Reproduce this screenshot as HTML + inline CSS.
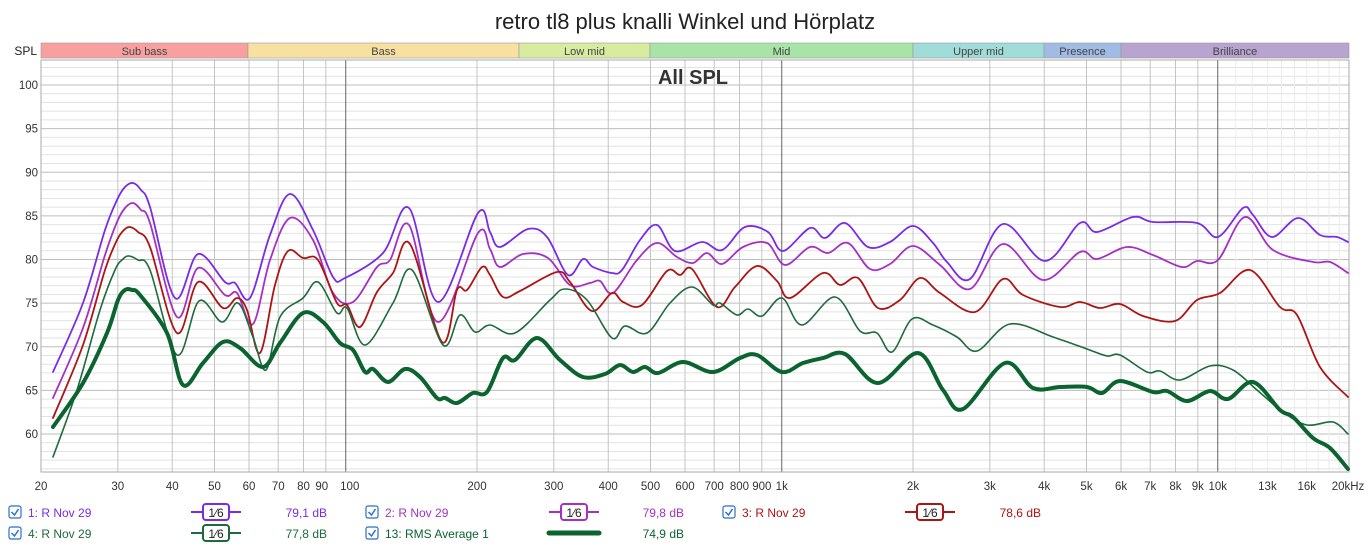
<!DOCTYPE html>
<html><head><meta charset="utf-8"><style>
body{margin:0;background:#fff;width:1369px;height:544px;overflow:hidden;font-family:"Liberation Sans",sans-serif}
</style></head><body>
<svg id="s" width="1369" height="544" xmlns="http://www.w3.org/2000/svg" font-family="Liberation Sans, sans-serif">
<rect width="1369" height="544" fill="#fff"/>
<text x="685" y="29" text-anchor="middle" font-size="22" fill="#222">retro tl8 plus knalli Winkel und Hörplatz</text>
<text x="37" y="55" text-anchor="end" font-size="12" fill="#222">SPL</text>
<g id="bands" font-size="11" fill="#444"></g>
<g id="grid"></g>
<text x="693" y="84" text-anchor="middle" font-size="20" font-weight="bold" fill="#333">All SPL</text>
<g id="curves" fill="none" stroke-linejoin="round" stroke-linecap="round"></g>
<g id="labels" font-size="11.5" fill="#333"></g>
<g id="legend" font-size="12"></g>
</svg>
<script>
const NS="http://www.w3.org/2000/svg";
function el(p,t,a,txt){const e=document.createElementNS(NS,t);for(const k in a)e.setAttribute(k,a[k]);if(txt!=null)e.textContent=txt;document.getElementById(p).appendChild(e);return e;}
const X=f=>41+436*Math.log10(f/20), Y=d=>85+(100-d)*8.725;
const T=60,B=472,L=41,R=1349;
[["Sub bass",41,248,"#f8a0a0"],["Bass",248,519,"#f8e0a0"],["Low mid",519,650,"#d8eca0"],["Mid",650,913,"#a8e4a8"],["Upper mid",913,1044,"#a0dcd8"],["Presence",1044,1121,"#a0bce4"],["Brilliance",1121,1349,"#b8a4d0"]].forEach(b=>{
el("bands","rect",{x:b[1],y:43,width:b[2]-b[1],height:15,fill:b[3],stroke:"#999","stroke-width":0.6});
el("bands","text",{x:(b[1]+b[2])/2,y:55,"text-anchor":"middle"},b[0]);});
for(let d=56;d<=102;d++){const y=Y(d);if(y<T||y>B)continue;el("grid","line",{x1:L,x2:R,y1:y,y2:y,stroke:d%5==0?"#bdbdbd":"#e2e2e2","stroke-width":1});}
for(let f=11000;f<20000;f+=1000){const x=X(f);el("grid","line",{x1:x,x2:x,y1:T,y2:B,stroke:"#ececec","stroke-width":1});}
const fs=[];for(let dec of [10,100,1000])for(let m=2;m<=9;m++)fs.push(m*dec);fs.push(100,1000,10000);
fs.forEach(f=>{const x=X(f);el("grid","line",{x1:x,x2:x,y1:T,y2:B,stroke:(f==100||f==1000||f==10000)?"#666":"#c4c4c4","stroke-width":1});});
el("grid","rect",{x:L,y:T,width:R-L,height:B-T,fill:"none",stroke:"#aaa"});
for(let d=60;d<=100;d+=5)el("labels","text",{x:38,y:Y(d)+4,"text-anchor":"end"},d);
[[20,"20"],[30,"30"],[40,"40"],[50,"50"],[60,"60"],[70,"70"],[80,"80"],[90,"90"],[100,"100"],[200,"200"],[300,"300"],[400,"400"],[500,"500"],[600,"600"],[700,"700"],[800,"800"],[900,"900"],[1000,"1k"],[2000,"2k"],[3000,"3k"],[4000,"4k"],[5000,"5k"],[6000,"6k"],[7000,"7k"],[8000,"8k"],[9000,"9k"],[10000,"10k"],[13000,"13k"],[16000,"16k"]].forEach(a=>{let x=X(a[0]);if(a[0]==90)x-=4;if(a[0]==100)x+=4;el("labels","text",{x:x,y:490,"text-anchor":"middle"},a[1]);});
el("labels","text",{x:1348,y:490,"text-anchor":"middle"},"20kHz");
function path(pts){let d="M"+pts[0][0]+","+pts[0][1];for(let i=0;i<pts.length-1;i++){const p0=pts[Math.max(0,i-1)],p1=pts[i],p2=pts[i+1],p3=pts[Math.min(pts.length-1,i+2)];
const c1=[p1[0]+(p2[0]-p0[0])/6,p1[1]+(p2[1]-p0[1])/6],c2=[p2[0]-(p3[0]-p1[0])/6,p2[1]-(p3[1]-p1[1])/6];d+=`C${c1[0].toFixed(1)},${c1[1].toFixed(1)} ${c2[0].toFixed(1)},${c2[1].toFixed(1)} ${p2[0]},${p2[1]}`;}return d;}
const A=[[53,372],[83,303],[105,230],[117,200],[125,187],[133,183],[141,190],[150,207],[175,298],[198,254],[225,282],[235,283],[250,298],[270,235],[290,194],[313,230],[333,277],[345,278],[383,253],[409,208],[438,302],[478,213],[490,232],[500,247],[528,229],[547,237],[568,275],[583,259],[593,267],[612,273],[622,270],[640,240],[657,225],[675,251],[702,242],[722,250],[745,227],[768,232],[783,251],[810,228],[825,238],[845,223],[868,247],[890,242],[913,226],[933,243],[947,262],[970,279],[1003,224],[1045,261],[1080,223],[1097,232],[1133,217],[1153,222],[1197,223],[1218,237],[1243,208],[1253,215],[1272,237],[1298,218],[1320,235],[1337,237],[1348,242]];
const Bc=[[53,398],[83,328],[105,255],[117,222],[125,208],[133,203],[141,210],[150,223],[177,317],[198,268],[225,295],[237,293],[253,324],[270,260],[290,218],[313,240],[333,293],[353,302],[377,267],[390,260],[409,225],[438,322],[478,233],[490,249],[500,267],[523,254],[548,258],[570,285],[590,283],[600,281],[613,293],[637,260],[657,243],[677,257],[693,263],[707,253],[722,264],[743,247],[767,243],[785,265],[810,247],[828,253],[848,243],[870,269],[890,264],[913,246],[940,265],[970,289],[1003,244],[1043,280],[1080,252],[1097,259],[1127,247],[1153,255],[1182,267],[1197,261],[1218,260],[1245,217],[1273,250],[1313,262],[1330,262],[1348,273]];
const C=[[53,418],[83,345],[105,270],[117,240],[124,230],[130,227],[138,232],[150,247],[177,333],[198,282],[223,308],[237,298],[247,310],[260,353],[275,285],[288,251],[303,258],[318,260],[337,303],[347,305],[360,327],[377,292],[393,273],[410,244],[442,342],[457,290],[467,290],[482,267],[490,275],[503,297],[520,291],[557,272],[570,282],[592,311],[612,293],[623,302],[642,305],[667,271],[680,275],[692,269],[717,307],[735,287],[757,266],[777,281],[790,298],[823,273],[840,285],[858,278],[878,308],[900,300],[920,278],[940,293],[975,312],[1003,279],[1023,295],[1060,307],[1080,302],[1100,308],[1120,304],[1143,316],[1175,321],[1197,300],[1220,293],[1250,270],[1280,307],[1297,315],[1320,367],[1348,397]];
const D=[[53,457],[77,390],[100,310],[115,270],[123,259],[129,256],[138,260],[150,270],[177,355],[199,301],[222,322],[238,303],[253,337],[266,370],[280,317],[303,298],[318,282],[337,313],[347,308],[365,345],[393,303],[412,270],[443,345],[460,315],[475,332],[490,325],[515,333],[550,300],[565,289],[587,300],[612,338],[625,326],[647,333],[670,303],[692,287],[713,305],[720,303],[737,315],[748,309],[762,316],[782,298],[802,325],[835,297],[860,331],[877,333],[892,352],[912,319],[933,325],[957,337],[977,351],[1010,324],[1053,337],[1087,349],[1107,356],[1120,355],[1147,372],[1160,371],[1180,380],[1210,366],[1233,370],[1257,390],[1283,412],[1307,425],[1333,422],[1348,434]];
const E=[[53,427],[83,383],[107,333],[118,300],[125,290],[132,290],[140,295],[167,333],[183,385],[203,363],[223,342],[240,348],[263,367],[280,343],[303,313],[323,322],[340,343],[353,350],[365,372],[373,369],[388,382],[405,369],[420,377],[437,398],[445,398],[457,403],[473,393],[487,392],[503,358],[515,360],[537,338],[560,360],[583,377],[605,374],[620,365],[633,372],[645,367],[658,373],[683,362],[713,372],[740,358],[757,355],[782,372],[803,363],[823,358],[845,354],[878,383],[918,353],[943,390],[963,409],[1005,363],[1033,388],[1060,387],[1087,387],[1102,393],[1120,381],[1153,392],[1167,391],[1187,401],[1210,391],[1228,399],[1253,382],[1280,410],[1293,417],[1313,438],[1330,448],[1348,469]];
[[A,"#7a2be6",1.8],[Bc,"#a630c4",1.8],[C,"#ad1414",1.8],[D,"#1d6b3c",1.6],[E,"#0b6430",4]].forEach(c=>el("curves","path",{d:path(c[0]),stroke:c[1],"stroke-width":c[2]}));
function chk(x,y){el("legend","rect",{x:x,y:y-10,width:12,height:12,rx:2,fill:"#fff",stroke:"#2b6fc8","stroke-width":1.2});el("legend","path",{d:`M${x+2.5},${y-4} l3,3 l4,-6`,fill:"none",stroke:"#2b6fc8","stroke-width":1.5});}
function item(x,y,label,col,lx,db,dbx,thick){chk(x,y);el("legend","text",{x:x+19,y:y+1,fill:col},label);
if(thick){el("legend","line",{x1:lx-25,x2:lx+25,y1:y-4,y2:y-4,stroke:col,"stroke-width":5,"stroke-linecap":"round"});}
else{el("legend","line",{x1:lx-25,x2:lx+25,y1:y-4,y2:y-4,stroke:col,"stroke-width":2});el("legend","rect",{x:lx-13,y:y-12,width:26,height:16,rx:3,fill:"#fff",stroke:col,"stroke-width":2});el("legend","text",{x:lx,y:y+1,"text-anchor":"middle",fill:"#222","font-size":12},"1⁄6");}
el("legend","text",{x:dbx,y:y+1,"text-anchor":"end",fill:col},db);}
item(9,516,"1: R Nov 29","#7a2be6",216,"79,1 dB",327,false);
item(366,516,"2: R Nov 29","#a630c4",574,"79,8 dB",684,false);
item(723,516,"3: R Nov 29","#ad1414",930,"78,6 dB",1041,false);
item(9,537,"4: R Nov 29","#1d6b3c",216,"77,8 dB",327,false);
item(366,537,"13: RMS Average 1","#0b6430",574,"74,9 dB",684,true);
</script>
</body></html>
